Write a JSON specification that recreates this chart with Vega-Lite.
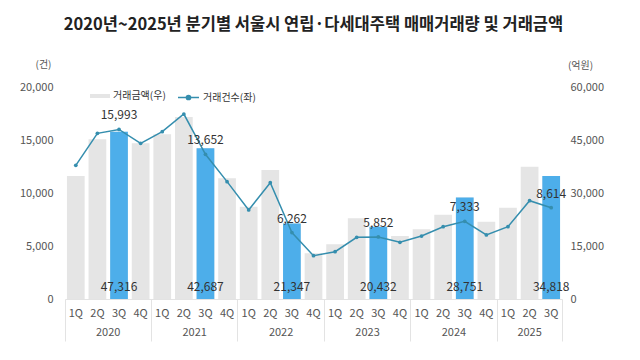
{
  "$schema": "https://vega.github.io/schema/vega-lite/v6.json",
  "width": 497,
  "height": 212,
  "autosize": {"type": "none"},
  "padding": {"left": 65, "top": 87, "right": 78, "bottom": 61},
  "background": "white",
  "config": {
    "font": "Noto Sans CJK KR",
    "view": {"stroke": null},
    "axis": {"labelFont": "Noto Sans CJK KR", "titleFont": "Noto Sans CJK KR", "grid": false}
  },
  "title": {
    "text": "2020년~2025년 분기별 서울시 연립·다세대주택 매매거래량 및 거래금액",
    "fontSize": 16.5,
    "fontWeight": "bold",
    "color": "#222222",
    "anchor": "middle",
    "offset": 26
  },
  "data": {
    "values": [
      {"period": "2020 1Q", "year": "2020", "q": "1Q", "count": 12610, "amount": 34800},
      {"period": "2020 2Q", "year": "2020", "q": "2Q", "count": 15630, "amount": 45200},
      {"period": "2020 3Q", "year": "2020", "q": "3Q", "count": 15993, "amount": 47316},
      {"period": "2020 4Q", "year": "2020", "q": "4Q", "count": 14690, "amount": 44060},
      {"period": "2021 1Q", "year": "2021", "q": "1Q", "count": 15790, "amount": 46600},
      {"period": "2021 2Q", "year": "2021", "q": "2Q", "count": 17450, "amount": 51500},
      {"period": "2021 3Q", "year": "2021", "q": "3Q", "count": 13652, "amount": 42687},
      {"period": "2021 4Q", "year": "2021", "q": "4Q", "count": 11070, "amount": 34150},
      {"period": "2022 1Q", "year": "2022", "q": "1Q", "count": 8400, "amount": 26130},
      {"period": "2022 2Q", "year": "2022", "q": "2Q", "count": 10970, "amount": 36500},
      {"period": "2022 3Q", "year": "2022", "q": "3Q", "count": 6262, "amount": 21347},
      {"period": "2022 4Q", "year": "2022", "q": "4Q", "count": 4090, "amount": 12930},
      {"period": "2023 1Q", "year": "2023", "q": "1Q", "count": 4465, "amount": 15470},
      {"period": "2023 2Q", "year": "2023", "q": "2Q", "count": 5820, "amount": 22830},
      {"period": "2023 3Q", "year": "2023", "q": "3Q", "count": 5852, "amount": 20432},
      {"period": "2023 4Q", "year": "2023", "q": "4Q", "count": 5350, "amount": 17830},
      {"period": "2024 1Q", "year": "2024", "q": "1Q", "count": 5940, "amount": 19720},
      {"period": "2024 2Q", "year": "2024", "q": "2Q", "count": 6820, "amount": 23870},
      {"period": "2024 3Q", "year": "2024", "q": "3Q", "count": 7333, "amount": 28751},
      {"period": "2024 4Q", "year": "2024", "q": "4Q", "count": 6040, "amount": 21880},
      {"period": "2025 1Q", "year": "2025", "q": "1Q", "count": 6820, "amount": 25850},
      {"period": "2025 2Q", "year": "2025", "q": "2Q", "count": 9270, "amount": 37450},
      {"period": "2025 3Q", "year": "2025", "q": "3Q", "count": 8614, "amount": 34818}
    ]
  },
  "layer": [
    {
      "encoding": {
        "x": {
          "field": "period",
          "type": "ordinal",
          "sort": null,
          "scale": {"paddingInner": 0, "paddingOuter": 0},
          "axis": {
            "title": null,
            "orient": "bottom",
            "labelAngle": 0,
            "labelExpr": "split(datum.value, ' ')[1]",
            "bandPosition": 1,
            "ticks": true,
            "tickSize": 42,
            "tickColor": "#E3E3E3",
            "tickOpacity": {"condition": {"test": "datum.value == '2025 3Q' || indexof(datum.value, '4Q') >= 0", "value": 1}, "value": 0},
            "domain": true,
            "domainColor": "#E3E3E3",
            "labelPadding": -34,
            "labelFontSize": 11,
            "labelColor": "#555555"
          }
        },
        "y": {
          "field": "amount",
          "type": "quantitative",
          "scale": {"domain": [0, 60000], "nice": false},
          "axis": {
            "orient": "right",
            "title": "(억원)",
            "titleAngle": 0,
            "titleX": 18,
            "titleY": -22,
            "titleAlign": "center",
            "titleBaseline": "middle",
            "titleFontSize": 10,
            "titleFontWeight": "normal",
            "titleColor": "#555555",
            "values": [0, 15000, 30000, 45000, 60000],
            "format": ",d",
            "domain": false,
            "ticks": false,
            "labelPadding": 8,
            "labelFontSize": 11,
            "labelColor": "#555555"
          }
        }
      },
      "layer": [
        {
          "mark": {"type": "bar", "width": {"band": 0.82}},
          "encoding": {
            "fill": {
              "datum": "거래금액(우)",
              "scale": {"range": ["#E5E5E5"]},
              "legend": {
                "title": null,
                "orient": "none",
                "legendX": 25,
                "legendY": -1,
                "padding": 0,
                "symbolType": "M-1,-0.2H1V0.2H-1Z",
                "symbolSize": 400,
                "symbolStrokeWidth": 0,
                "labelFontSize": 10,
                "labelColor": "#333333",
                "labelOffset": 3
              }
            }
          }
        },
        {
          "transform": [{"filter": "datum.q == '3Q'"}],
          "mark": {"type": "bar", "width": {"band": 0.82}, "color": "#4DAEEA"}
        },
        {
          "transform": [{"filter": "datum.q == '3Q'"}],
          "mark": {"type": "text", "dy": -12, "fontSize": 12, "color": "#333333", "baseline": "middle"},
          "encoding": {
            "y": {"datum": 0},
            "text": {"field": "amount", "type": "quantitative", "format": ",d"}
          }
        }
      ]
    },
    {
      "encoding": {
        "x": {
          "field": "period",
          "type": "ordinal",
          "sort": null,
          "axis": {
            "title": null,
            "orient": "bottom",
            "labelAngle": 0,
            "bandPosition": 0,
            "domain": false,
            "ticks": true,
            "tickSize": 42,
            "tickColor": "#E3E3E3",
            "tickOpacity": {"condition": {"test": "datum.value == '2020 1Q'", "value": 1}, "value": 0},
            "labelExpr": "indexof(datum.value, '3Q') >= 0 ? split(datum.value, ' ')[0] : ''",
            "labelOffset": {"condition": {"test": "datum.value == '2025 3Q'", "value": -21.6}, "value": -10.8},
            "labelPadding": -15,
            "labelFontSize": 11,
            "labelColor": "#555555"
          }
        },
        "y": {
          "field": "count",
          "type": "quantitative",
          "scale": {"domain": [0, 20000], "nice": false},
          "axis": {
            "orient": "left",
            "title": "(건)",
            "titleAngle": 0,
            "titleX": -22,
            "titleY": -23,
            "titleAlign": "center",
            "titleBaseline": "middle",
            "titleFontSize": 10,
            "titleFontWeight": "normal",
            "titleColor": "#555555",
            "values": [0, 5000, 10000, 15000, 20000],
            "format": ",d",
            "domain": false,
            "ticks": false,
            "labelPadding": 12,
            "labelFontSize": 11,
            "labelColor": "#555555"
          }
        }
      },
      "layer": [
        {
          "mark": {"type": "line", "strokeWidth": 1.5},
          "encoding": {
            "stroke": {
              "datum": "거래건수(좌)",
              "scale": {"range": ["#358EAE"]},
              "legend": {
                "title": null,
                "orient": "none",
                "legendX": 112,
                "legendY": -1,
                "padding": 0,
                "symbolType": "M-1,0H1M-0.2,0A0.2,0.2 0 1,0 0.2,0A0.2,0.2 0 1,0 -0.2,0",
                "symbolSize": 441,
                "symbolStrokeWidth": 1.5,
                "symbolFillColor": "#358EAE",
                "labelFontSize": 10,
                "labelColor": "#333333",
                "labelOffset": 3
              }
            }
          }
        },
        {
          "mark": {"type": "point", "filled": true, "size": 14, "color": "#358EAE", "opacity": 1}
        },
        {
          "transform": [{"filter": "datum.q == '3Q'"}],
          "mark": {"type": "text", "dy": -14, "fontSize": 12, "color": "#333333", "baseline": "middle"},
          "encoding": {
            "text": {"field": "count", "type": "quantitative", "format": ",d"}
          }
        }
      ]
    }
  ],
  "resolve": {"scale": {"y": "independent", "fill": "independent", "stroke": "independent"}, "axis": {"x": "independent"}}
}
